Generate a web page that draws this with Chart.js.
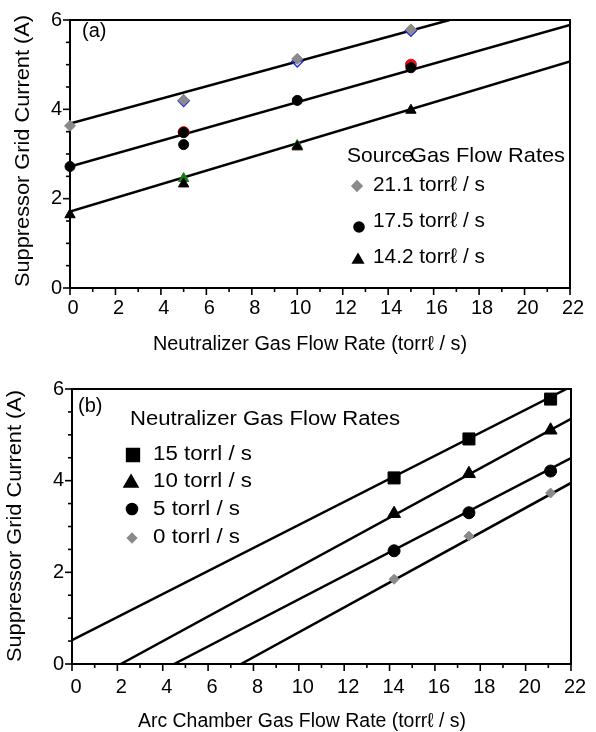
<!DOCTYPE html>
<html><head><meta charset="utf-8">
<script src="https://cdn.jsdelivr.net/npm/chart.js@4/dist/chart.umd.min.js"></script>
<style>
html,body{margin:0;padding:0;background:#fff;}
#wrap{position:relative;width:596px;height:732px;overflow:hidden;}
canvas{position:absolute;left:0;}
#c1{top:0;width:596px;height:360px;}
#c2{top:360px;width:596px;height:372px;}
</style></head><body>
<div id="wrap"><canvas id="c1" width="596" height="360"></canvas><canvas id="c2" width="596" height="372"></canvas></div>
<script>
// ---------- (a) data: current vs neutralizer gas flow ----------
const neutralizerFlow = [0, 5, 10, 15];
const src211 = [3.63, 4.21, 5.13, 5.79];
const src211BlueX = [5, 10, 15];
const src211BlueY = [4.19, 5.07, 5.76];
const src175X = [0, 5, 5, 10, 15];
const src175Y = [2.72, 3.48, 3.21, 4.20, 4.93];
const src175RedX = [5, 15];
const src175RedY = [3.49, 5.00];
const src142 = [1.64, 2.33, 3.16, 3.98];
const src142GreenX = [5, 10];
const src142GreenY = [2.45, 3.19];
const fit211X = [0, 16.7], fit211Y = [3.68, 6.0];
const fit175X = [0, 22],   fit175Y = [2.72, 5.89];
const fit142X = [0, 22],   fit142Y = [1.71, 5.07];
const xTicksA = [0, 22, 2];
const yTicks = [0, 6, 2];

// ---------- (b) data: current vs arc chamber gas flow ----------
const arcFlow = [14.2, 17.5, 21.1];
const neu15 = [4.06, 4.91, 5.78];
const neu10 = [3.28, 4.15, 5.10];
const neu5  = [2.47, 3.30, 4.21];
const neu0  = [1.85, 2.79, 3.73];
const fit15X = [0, 21.8],   fit15Y = [0.52, 6.0];
const fit10X = [2.15, 22],  fit10Y = [0, 5.35];
const fit5X  = [4.5, 22],   fit5Y  = [0, 4.49];
const fit0X  = [7.45, 22],  fit0Y  = [0, 3.95];

const FONT = '"Liberation Sans", Arial, Helvetica, sans-serif';
const GREY = '#8a8a8a';
Chart.defaults.font.family = FONT;
Chart.defaults.color = '#000';

function pts(xs, ys) { return xs.map((x, i) => ({ x: x, y: ys[i] })); }
function lineDs(xs, ys) {
  return { data: pts(xs, ys), showLine: true, borderColor: '#000', borderWidth: 2.5,
           pointRadius: 0, fill: false, order: 10 };
}
function ptDs(xs, ys, style, r, fill, stroke, order, bw) {
  return { data: pts(xs, ys), showLine: false, pointStyle: style, pointRadius: r,
           pointBackgroundColor: fill, pointBorderColor: stroke || fill,
           pointBorderWidth: bw == null ? 1 : bw, order: order || 1, clip: false };
}

const decor = {
  id: 'decor',
  afterDraw(chart, args, opts) {
    const ctx = chart.ctx, a = chart.chartArea, xs = chart.scales.x, ys = chart.scales.y;
    ctx.save();
    ctx.strokeStyle = '#000';
    ctx.lineWidth = 2;
    ctx.beginPath();
    ctx.moveTo(a.left, a.top); ctx.lineTo(a.right, a.top); ctx.lineTo(a.right, a.bottom);
    ctx.stroke();
    ctx.lineWidth = 1.6;
    for (let v = xs.min; v <= xs.max + 1e-9; v += 1) {
      const p = xs.getPixelForValue(v), L = (Math.round(v) % 2 === 0) ? 7 : 4;
      ctx.beginPath(); ctx.moveTo(p, a.bottom); ctx.lineTo(p, a.bottom + L); ctx.stroke();
    }
    for (let v = ys.min; v <= ys.max + 1e-9; v += 0.5) {
      const p = ys.getPixelForValue(v), L = (Math.abs(v % 2) < 1e-9) ? 7 : 4;
      ctx.beginPath(); ctx.moveTo(a.left, p); ctx.lineTo(a.left - L, p); ctx.stroke();
    }
    ctx.fillStyle = '#000';
    ctx.textBaseline = 'alphabetic';
    for (const t of opts.texts) {
      ctx.font = (t.size || 20) + 'px ' + FONT;
      ctx.save();
      ctx.translate(t.x, t.y);
      if (t.rot) ctx.rotate(-Math.PI / 2);
      const w = ctx.measureText(t.s).width;
      if (t.w) ctx.scale(t.w / w, 1);
      ctx.textAlign = t.rot ? 'center' : 'left';
      ctx.fillText(t.s, 0, 0);
      ctx.restore();
    }
    for (const m of opts.markers) {
      ctx.fillStyle = m.c; ctx.strokeStyle = m.c;
      Chart.helpers.drawPoint(ctx, { pointStyle: m.st, radius: m.r, borderWidth: 1, rotation: 0 }, m.x, m.y);
    }
    ctx.restore();
  }
};

function axes(xMin, xMax, xStep, lblOff, lblPad, yW, xH) {
  return {
    x: { type: 'linear', min: xMin, max: xMax,
         ticks: { stepSize: xStep, autoSkip: false, maxRotation: 0, padding: lblPad,
                  labelOffset: lblOff, font: { size: 20 }, color: '#000' },
         grid: { display: false, drawTicks: false },
         border: { display: true, color: '#000', width: 2 },
         afterFit: s => { s.height = xH; } },
    y: { type: 'linear', min: yTicks[0], max: yTicks[1],
         ticks: { stepSize: yTicks[2], padding: 8, font: { size: 20 }, color: '#000' },
         grid: { display: false, drawTicks: false },
         border: { display: true, color: '#000', width: 2 },
         afterFit: s => { s.width = yW; } }
  };
}

new Chart(document.getElementById('c1'), {
  type: 'scatter',
  data: { datasets: [
    lineDs(fit211X, fit211Y), lineDs(fit175X, fit175Y), lineDs(fit142X, fit142Y),
    ptDs(src211BlueX, src211BlueY, 'rectRot', 5.5, 'rgba(0,0,0,0)', '#2030e0', 5, 1.5),
    ptDs(src175RedX, src175RedY, 'circle', 5.5, '#e01010', '#e01010', 5),
    ptDs(src142GreenX, src142GreenY, 'triangle', 6, '#1a7a1a', '#1a7a1a', 5),
    ptDs(neutralizerFlow, src211, 'rectRot', 5.5, GREY, GREY, 1),
    ptDs(src175X, src175Y, 'circle', 5, '#000', '#000', 1),
    ptDs(neutralizerFlow, src142, 'triangle', 6, '#000', '#000', 1)
  ]},
  options: {
    responsive: false, animation: false, devicePixelRatio: 1,
    layout: { padding: { left: 0, top: 14, right: 26, bottom: 0 } },
    scales: axes(xTicksA[0], xTicksA[1], xTicksA[2], 3, 8, 70, 72),
    plugins: {
      legend: { display: false }, tooltip: { enabled: false },
      decor: {
        texts: [
          { s: 'Suppressor Grid Current (A)', x: 29, y: 151, rot: true, w: 272 },
          { s: 'Neutralizer Gas Flow Rate (torr\u2113 / s)', x: 153, y: 350, w: 314 },
          { s: '(a)', x: 82, y: 37 },
          { s: 'Source', x: 347, y: 162, size: 21 },
          { s: 'Gas Flow Rates', x: 410, y: 162, size: 21, w: 155 },
          { s: '21.1 torr\u2113 / s', x: 373, y: 191, size: 21, w: 112 },
          { s: '17.5 torr\u2113 / s', x: 373, y: 227, size: 21, w: 112 },
          { s: '14.2 torr\u2113 / s', x: 373, y: 263, size: 21, w: 112 }
        ],
        markers: [
          { st: 'rectRot', r: 5, c: GREY, x: 357, y: 186 },
          { st: 'circle', r: 5, c: '#000', x: 359, y: 227 },
          { st: 'triangle', r: 6, c: '#000', x: 358, y: 260 }
        ]
      }
    }
  },
  plugins: [decor]
});

new Chart(document.getElementById('c2'), {
  type: 'scatter',
  data: { datasets: [
    lineDs(fit15X, fit15Y), lineDs(fit10X, fit10Y), lineDs(fit5X, fit5Y), lineDs(fit0X, fit0Y),
    ptDs(arcFlow, neu15, 'rect', 8.5, '#000', '#000', 1),
    ptDs(arcFlow, neu10, 'triangle', 7.5, '#000', '#000', 1),
    ptDs(arcFlow, neu5, 'circle', 6, '#000', '#000', 1),
    ptDs(arcFlow, neu0, 'rectRot', 5, GREY, GREY, 1)
  ]},
  options: {
    responsive: false, animation: false, devicePixelRatio: 1,
    layout: { padding: { left: 0, top: 29, right: 25, bottom: 0 } },
    scales: axes(xTicksA[0], xTicksA[1], xTicksA[2], 4, 11, 72, 68),
    plugins: {
      legend: { display: false }, tooltip: { enabled: false },
      decor: {
        texts: [
          { s: 'Suppressor Grid Current (A)', x: 21, y: 166, rot: true, w: 272 },
          { s: 'Arc Chamber Gas Flow Rate (torr\u2113 / s)', x: 138, y: 367, w: 328 },
          { s: '(b)', x: 78, y: 52 },
          { s: 'Neutralizer Gas Flow Rates', x: 130, y: 65, w: 270 },
          { s: '15 torrl / s', x: 153, y: 100, w: 99 },
          { s: '10 torrl / s', x: 153, y: 127, w: 99 },
          { s: '5 torrl / s', x: 153, y: 155, w: 87 },
          { s: '0 torrl / s', x: 153, y: 183, w: 87 }
        ],
        markers: [
          { st: 'rect', r: 9, c: '#000', x: 133, y: 95 },
          { st: 'triangle', r: 8, c: '#000', x: 131, y: 123 },
          { st: 'circle', r: 5.5, c: '#000', x: 132, y: 149 },
          { st: 'rectRot', r: 4.5, c: GREY, x: 132, y: 178 }
        ]
      }
    }
  },
  plugins: [decor]
});
</script>
</body></html>
